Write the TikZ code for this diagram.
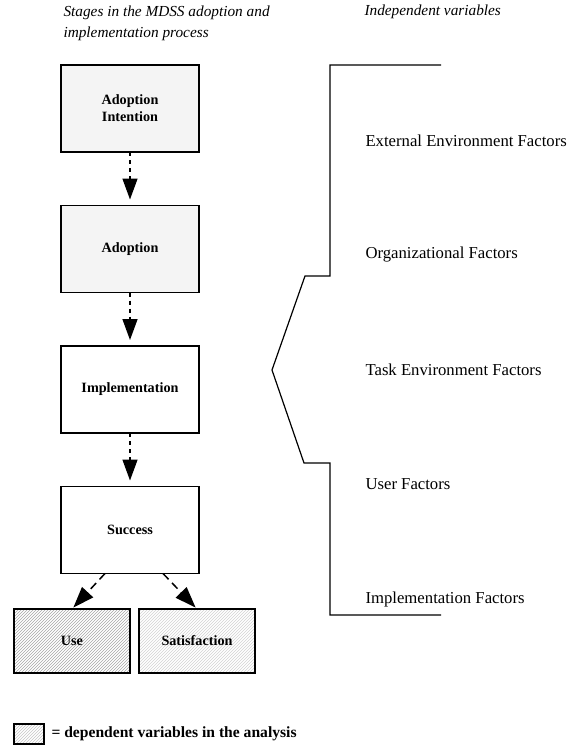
\documentclass[tikz,border=0pt]{standalone}
\usepackage{fontspec}
\setmainfont{Liberation Serif}
\usepackage{tikz}
\usetikzlibrary{positioning, chains, patterns}
\usetikzlibrary{arrows.meta}
\tikzset{>={Triangle[width=15pt,length=21pt]}}

\begin{document}
\begin{tikzpicture}[
    x = 1pt, y = -1pt,
    node distance = 53.5pt,
    start chain = going below,
    stage/.style = {draw, line width=1.6pt, minimum width=138pt,
        minimum height=87pt, outer sep = 0mm, align=center,
        font=\fontsize{14.2}{17}\selectfont\bfseries},
    stagechain/.style = {stage, on chain},
    stipple/.style = {fill=gray!9},
    hatched/.style = {pattern=north east lines, pattern color=gray!70},
    flow/.style = {->, line width=1.5pt, dash pattern=on 4pt off 4pt},
    factor/.style = {anchor=west, font=\fontsize{16.7}{20}\selectfont},
    heading/.style = {anchor=west, align=left,
        font=\fontsize{15.3}{21}\selectfont\itshape}
  ]
  \useasboundingbox (0,0) rectangle (579,745);

  % stages
  \node[stagechain, stipple] (intent) at (130,108.5) {Adoption\\Intention};
  \node[stagechain, stipple] (adopt) {Adoption};
  \node[stagechain] (impl) {Implementation};
  \node[stagechain] (succ) {Success};

  \node[stage, hatched, minimum width=116pt, minimum height=64pt] (use) at (72,641) {Use};
  \node[stage, pattern=north east lines, pattern color=gray!35,
    minimum width=116pt, minimum height=64pt] (sat) at (197,641) {Satisfaction};

  \foreach \a/\b in {intent/adopt, adopt/impl, impl/succ}
  \draw[flow, shorten >=6pt] (\a) -- (\b);
  \draw[flow, dash pattern=on 8pt off 5pt, shorten >=2pt] ([xshift=-25pt]succ.south) -- (use.north);
  \draw[flow, dash pattern=on 8pt off 5pt, shorten >=2pt] ([xshift=33pt]succ.south) -- (sat.north);

  % headings
  \node[heading] (stagehead) at (60,23) {Stages in the MDSS adoption and\\implementation process};
  \node[heading] (indephead) at (361,12) {Independent variables};

  % bracket
  \draw[line width=1.2pt] (441,65) -- (330,65) -- (330,276) -- (305,276)
    -- (272,370) -- (304,463) -- (330,463) -- (330,615) -- (441,615);

  \foreach \t/\y [count=\k] in {External Environment Factors/141,
      Organizational Factors/255, Task Environment Factors/370,
      User Factors/484, Implementation Factors/599}
  \node[factor] (fac\k) at (362,\y) {\t};

  % legend
  \node[draw, line width=1.2pt, pattern=north east lines, pattern color=gray!45,
    minimum width=30pt, minimum height=20pt, outer sep=0mm] (key) at (29,734) {};
  \node[anchor=west, font=\fontsize{15.6}{18}\selectfont\bfseries] (keytext)
    at ([xshift=4pt]key.east) {= dependent variables in the analysis};
\end{tikzpicture}
\end{document}
